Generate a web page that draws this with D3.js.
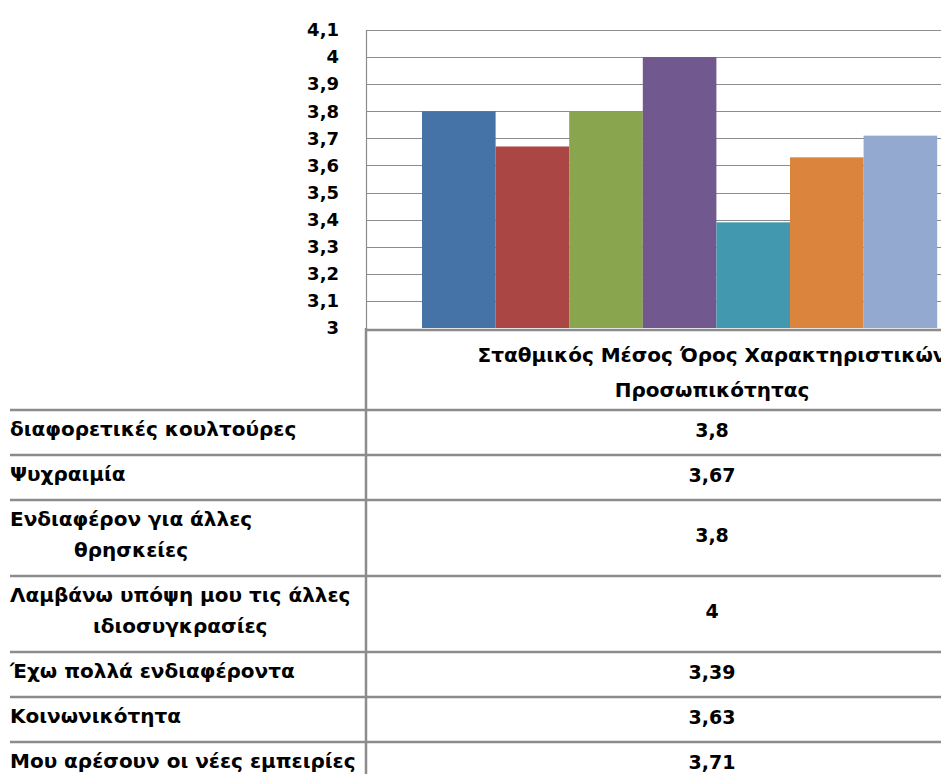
<!DOCTYPE html>
<html>
<head>
<meta charset="utf-8">
<script src="https://cdn.jsdelivr.net/npm/d3@7"></script>
<style>
  html, body { margin: 0; padding: 0; background: #fff; overflow: hidden; }
  svg { display: block; }
  text { font-family: "DejaVu Sans", sans-serif; font-weight: bold; fill: #000; }
</style>
</head>
<body>
<svg id="chart" width="941" height="774"></svg>
<script>
// Category shown under the plot (column header of the data table)
const category = "Σταθμικός Μέσος Όρος Χαρακτηριστικών\nΠροσωπικότητας";

// Series (one bar each) and their weighted means
const seriesNames = [
  "διαφορετικές κουλτούρες",
  "Ψυχραιμία",
  "Ενδιαφέρον για άλλες\nθρησκείες",
  "Λαμβάνω υπόψη μου τις άλλες\nιδιοσυγκρασίες",
  "Έχω πολλά ενδιαφέροντα",
  "Κοινωνικότητα",
  "Μου αρέσουν οι νέες εμπειρίες"
];
const seriesValues = [3.8, 3.67, 3.8, 4, 3.39, 3.63, 3.71];
const seriesColors = ["#4572A7", "#AA4643", "#89A54E", "#71588F", "#4198AF", "#DB843D", "#93A9CF"];

// Value axis
const yDomain = [3, 4.1];
const yTicks = [3, 3.1, 3.2, 3.3, 3.4, 3.5, 3.6, 3.7, 3.8, 3.9, 4, 4.1];

// Layout
const W = 941, H = 774;
const plot = { left: 366, right: 1058, top: 30, bottom: 328 };
const barOffset = 56, barStep = 73.6;
const tableTop = 330, headerH = 80, rowH1 = 45, rowH2 = 76;
const gridColor = "#8c8c8c";

const comma = v => d3.format("~g")(v).replace(".", ",");

const svg = d3.select("#chart");

const y = d3.scaleLinear().domain(yDomain).range([plot.bottom, plot.top]);
const xCat = d3.scaleBand().domain([category]).range([plot.left, plot.right]);
const xSeries = d3.scaleBand()
  .domain(seriesNames)
  .range([plot.left + barOffset, plot.left + barOffset + barStep * seriesNames.length])
  .padding(0);

// Horizontal gridlines
svg.append("g").selectAll("line")
  .data(yTicks.filter(t => t > yDomain[0]))
  .join("line")
  .attr("x1", plot.left).attr("x2", plot.right)
  .attr("y1", d => Math.round(y(d)) + 0.5).attr("y2", d => Math.round(y(d)) + 0.5)
  .attr("stroke", gridColor).attr("stroke-width", 1.2);

// Plot left border
svg.append("line")
  .attr("x1", plot.left + 0.5).attr("x2", plot.left + 0.5)
  .attr("y1", plot.top).attr("y2", plot.bottom)
  .attr("stroke", gridColor).attr("stroke-width", 1.2);

// Y axis labels
const yAxis = d3.axisLeft(y).tickValues(yTicks).tickFormat(comma).tickSize(0).tickPadding(0);
const yg = svg.append("g").attr("transform", `translate(${339},0)`).call(yAxis);
yg.select(".domain").remove();
yg.selectAll("text")
  .style("font-family", "'DejaVu Sans', sans-serif")
  .style("font-weight", "bold")
  .style("font-size", "18px")
  .attr("fill", "#000");

// Bars
svg.append("g").selectAll("rect")
  .data(seriesNames.map((n, i) => ({ name: n, value: seriesValues[i], color: seriesColors[i] })))
  .join("rect")
  .attr("x", d => xSeries(d.name))
  .attr("width", xSeries.bandwidth())
  .attr("y", d => y(d.value))
  .attr("height", d => y(yDomain[0]) - y(d.value))
  .attr("fill", d => d.color);

// Data table
const rows = seriesNames.map((n, i) => ({
  lines: n.split("\n"),
  value: seriesValues[i]
}));
let cursor = tableTop + headerH;
rows.forEach(r => {
  r.top = cursor;
  r.h = r.lines.length > 1 ? rowH2 : rowH1;
  cursor += r.h;
});

const table = svg.append("g");
const colCenter = xCat(category) + xCat.bandwidth() / 2;

// Table top line (also the category axis)
table.append("line")
  .attr("x1", plot.left).attr("x2", plot.right)
  .attr("y1", tableTop).attr("y2", tableTop)
  .attr("stroke", gridColor).attr("stroke-width", 2.5);

// Row separators
table.selectAll("line.row")
  .data(rows)
  .join("line")
  .attr("class", "row")
  .attr("x1", 10).attr("x2", plot.right)
  .attr("y1", d => d.top).attr("y2", d => d.top)
  .attr("stroke", gridColor).attr("stroke-width", 2.5);

// Vertical divider between labels and values
table.append("line")
  .attr("x1", plot.left).attr("x2", plot.left)
  .attr("y1", tableTop - 2).attr("y2", H)
  .attr("stroke", gridColor).attr("stroke-width", 2.5);

// Column header
const headerLines = category.split("\n");
table.append("text")
  .attr("text-anchor", "middle")
  .style("font-size", "20px")
  .selectAll("tspan")
  .data(headerLines)
  .join("tspan")
  .attr("x", colCenter)
  .attr("y", (d, i) => tableTop + 32 + i * 35)
  .text(d => d);

// Row labels: block left-aligned, lines centred within the block
const labelLeft = 10, lineGap = 31;
rows.forEach(r => {
  const g = table.append("g");
  const t = g.append("text").style("font-size", "20px");
  const n = r.lines.length;
  const cy = r.top + r.h / 2;
  const spans = t.selectAll("tspan").data(r.lines).join("tspan")
    .attr("y", (d, i) => cy + (i - (n - 1) / 2) * lineGap)
    .attr("dy", "0.18em")
    .text(d => d);
  const widths = [];
  spans.each(function () { widths.push(this.getComputedTextLength()); });
  const maxW = d3.max(widths);
  spans.attr("x", (d, i) => labelLeft + (maxW - widths[i]) / 2);
});

// Values
table.selectAll("text.val")
  .data(rows)
  .join("text")
  .attr("class", "val")
  .attr("x", colCenter)
  .attr("y", d => d.top + d.h / 2)
  .attr("dy", "0.22em")
  .attr("text-anchor", "middle")
  .style("font-size", "19px")
  .text(d => comma(d.value));
</script>
</body>
</html>
